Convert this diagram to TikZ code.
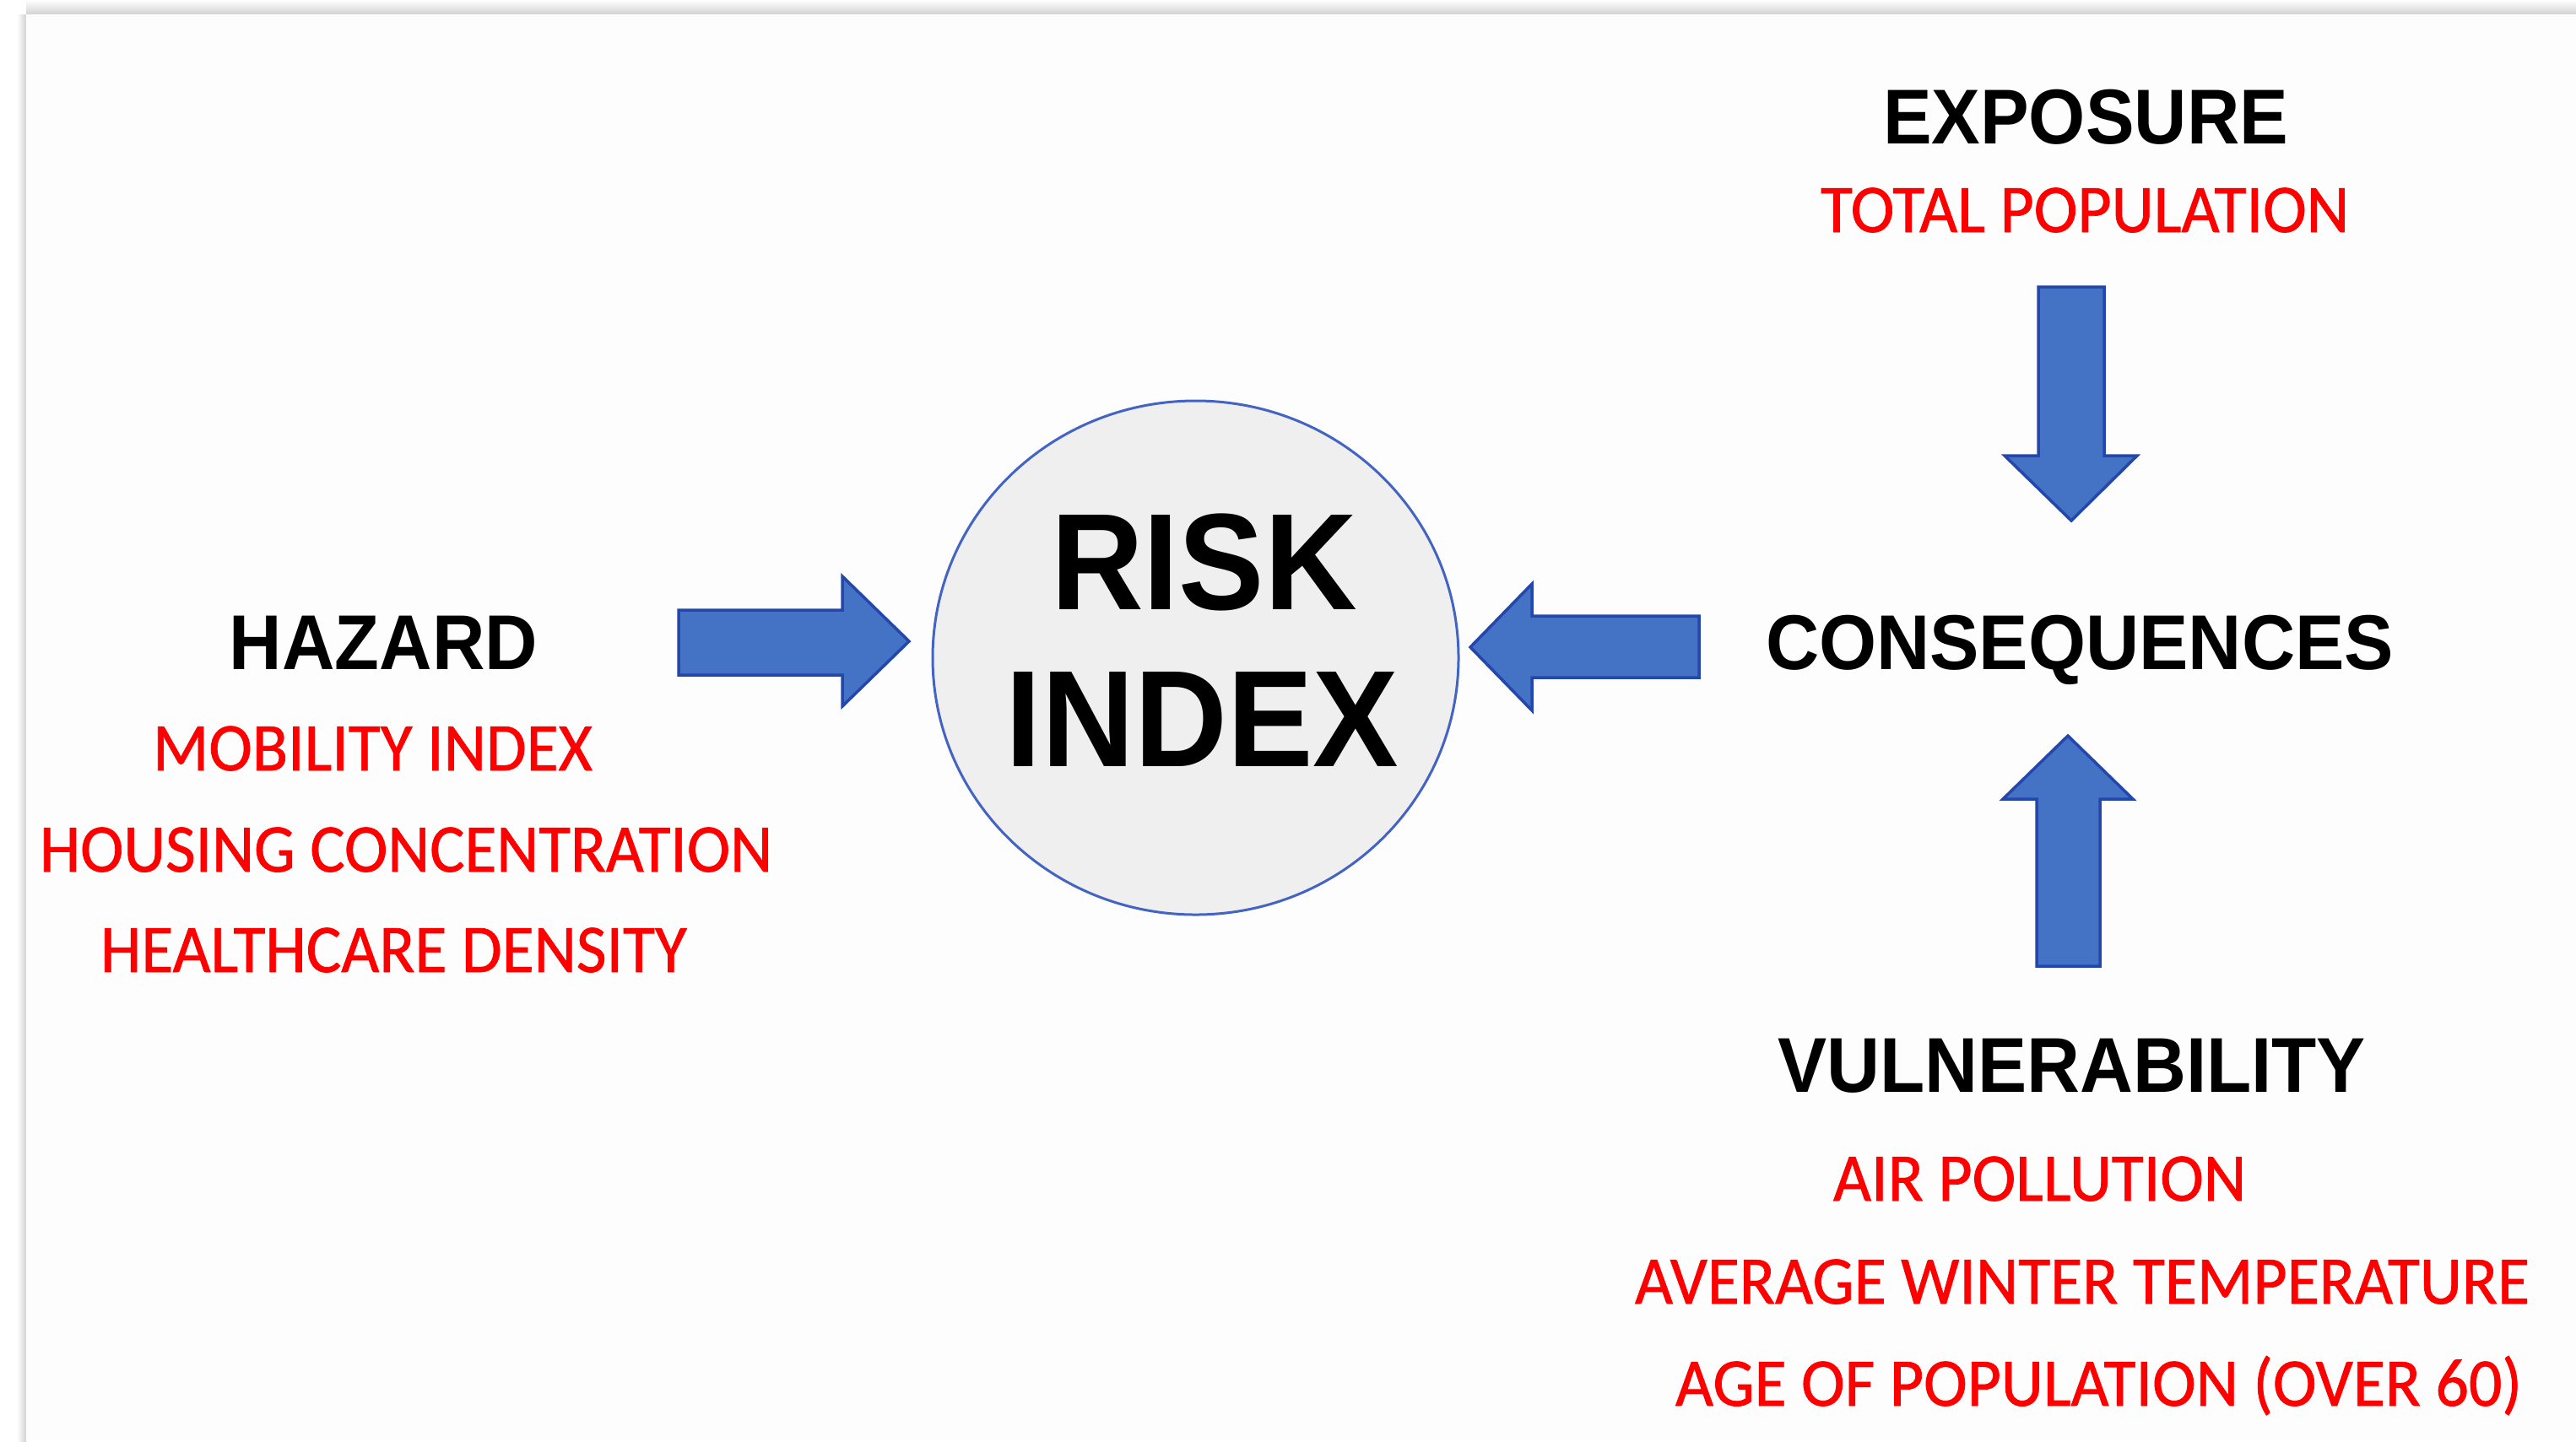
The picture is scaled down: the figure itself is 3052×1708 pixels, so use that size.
\documentclass[tikz,border=0pt]{standalone}
\usepackage{graphicx}
\usepackage{fontspec}
\setmainfont{Liberation Sans}
\newfontfamily\itemfont{Carlito}[FakeBold=0.9]
\usetikzlibrary{shapes.geometric}

% one drawing unit = one pixel of the 3052 x 1708 canvas
\newlength{\pxu}
\setlength{\pxu}{0.01cm}
% set a line at its natural height, stretched or squeezed to a given width
\newcommand{\fitline}[2]{\resizebox{#1\pxu}{\height}{#2}}

\definecolor{arrowfill}{HTML}{4472C4}
\definecolor{arrowedge}{HTML}{2447AC}
\definecolor{ringblue}{HTML}{4464C4}
\definecolor{discgray}{HTML}{EFEFEF}
\definecolor{itemred}{HTML}{FF0000}
\definecolor{shadowgray}{HTML}{D2D2D2}
\definecolor{panelwhite}{HTML}{FDFDFD}

\tikzset{
  headlabel/.style={inner sep=0pt, anchor=base, text=black,
    font=\fontsize{26.2pt}{30pt}\selectfont\bfseries},
  biglabel/.style={inner sep=0pt, anchor=base, text=black,
    font=\fontsize{46.3pt}{52pt}\selectfont\bfseries},
  itemlabel/.style={inner sep=0pt, anchor=base, text=itemred,
    font=\itemfont\fontsize{23pt}{26pt}\selectfont},
  blockarrow/.style={fill=arrowfill, draw=arrowedge, line width=3.5\pxu,
    line join=miter},
}

\begin{document}
\begin{tikzpicture}[x=0.01cm, y=-0.01cm]
  \useasboundingbox (0,0) rectangle (3052,1708);

  % page and the slide panel with its soft shadow
  \fill[white] (0,0) rectangle (3052,1708);
  \shade[top color=white, bottom color=shadowgray] (31,0) rectangle (3052,17);
  \shade[left color=white, right color=shadowgray] (20,17) rectangle (31,1708);
  \fill[panelwhite] (31,17) rectangle (3052,1708);

  % central disc
  \node[ellipse, draw=ringblue, fill=discgray, line width=3\pxu, inner sep=0pt,
        minimum width=623\pxu, minimum height=609\pxu] (risk) at (1416.5,779.5) {};
  \node[biglabel] (riskword)  at (1426.5,722) {\fitline{363}{RISK}};
  \node[biglabel] (indexword) at (1424.5,908) {\fitline{465}{INDEX}};

  % hazard block
  \node[headlabel] (hazard)     at (454.5,793) {\fitline{365}{HAZARD}};
  \node[itemlabel] (mobility)   at (441.5,913) {\fitline{521}{MOBILITY INDEX}};
  \node[itemlabel] (housing)    at (481,1033)  {\fitline{868}{HOUSING CONCENTRATION}};
  \node[itemlabel] (healthcare) at (466.5,1152) {\fitline{695}{HEALTHCARE DENSITY}};

  % exposure block
  \node[headlabel] (exposure)   at (2471,170) {\fitline{480}{EXPOSURE}};
  \node[itemlabel] (population) at (2470,275) {\fitline{626}{TOTAL POPULATION}};

  % consequences
  \node[headlabel] (consequences) at (2464,793) {\fitline{744}{CONSEQUENCES}};

  % vulnerability block
  \node[headlabel] (vulnerability) at (2454.5,1294) {\fitline{697}{VULNERABILITY}};
  \node[itemlabel] (airpollution)  at (2416.5,1423) {\fitline{489}{AIR POLLUTION}};
  \node[itemlabel] (wintertemp)    at (2467,1545)   {\fitline{1060}{AVERAGE WINTER TEMPERATURE}};
  \node[itemlabel] (ageover)       at (2486.5,1666) {\fitline{1003}{AGE OF POPULATION (OVER 60)}};

  % block arrows
  \draw[blockarrow] (804,723) -- (998,723) -- (998,683) -- (1077,760)
                    -- (998,837) -- (998,800) -- (804,800) -- cycle;
  \draw[blockarrow] (2013,730) -- (1815,730) -- (1815,692) -- (1742,767)
                    -- (1815,842) -- (1815,803) -- (2013,803) -- cycle;
  \draw[blockarrow] (2415,340) -- (2493,340) -- (2493,540) -- (2532,540)
                    -- (2454,617) -- (2375,540) -- (2415,540) -- cycle;
  \draw[blockarrow] (2413,1145) -- (2413,947) -- (2373,947) -- (2450,872)
                    -- (2527,947) -- (2488,947) -- (2488,1145) -- cycle;
\end{tikzpicture}
\end{document}
